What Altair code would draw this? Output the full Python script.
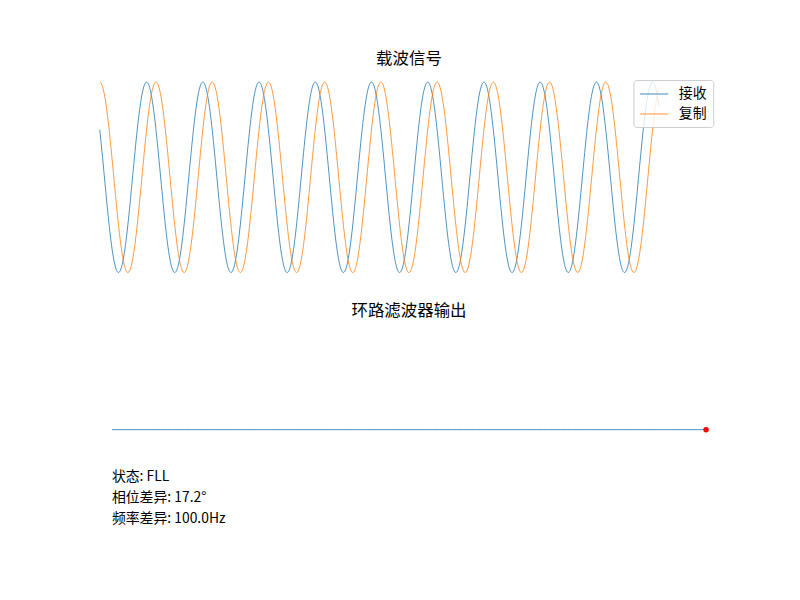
import altair as alt
import numpy as np
import pandas as pd

FONT = "Noto Sans CJK SC"

# ---------------- data ----------------
series_names = ["接收", "复制"]
series_colors = ["#1f77b4", "#ff7f0e"]
carrier_cycles = 10.0            # cycles per time unit
series_phase_deg = [60.0, 0.0]   # received leads the replica by ~60°
t_end = 0.995                    # last sample drawn (x axis runs to 1.1)
n_samples = 1000

loop_iter = list(range(50))
loop_output = [0.0] * 50

status_lines = ["状态: FLL", "相位差异: 17.2°", "频率差异: 100.0Hz"]

titles = ["载波信号", "环路滤波器输出"]

# ---------------- tables ----------------
t = np.linspace(0.0, t_end, n_samples)
frames = []
for name, ph in zip(series_names, series_phase_deg):
    frames.append(pd.DataFrame({
        "t": t,
        "v": np.cos(2 * np.pi * carrier_cycles * t + np.deg2rad(ph)),
        "s": name,
    }))
carrier = pd.concat(frames, ignore_index=True)

loop_df = pd.DataFrame({"i": loop_iter, "v": loop_output})
text_df = pd.DataFrame({"label": status_lines,
                        "x": [0, 0, 0],
                        "y": [-0.45, -0.65, -0.85]})

title_style = dict(fontSize=16.5, font=FONT, fontWeight="normal",
                   offset=5, anchor="middle", color="black")

# ---------------- top panel ----------------
top = alt.Chart(carrier).mark_line(strokeWidth=0.8).encode(
    x=alt.X("t:Q", scale=alt.Scale(domain=[0, 1.1], nice=False, zero=False), axis=None),
    y=alt.Y("v:Q", scale=alt.Scale(domain=[-1.1, 1.1], nice=False), axis=None),
    color=alt.Color(
        "s:N",
        sort=series_names,
        scale=alt.Scale(domain=series_names, range=series_colors),
        legend=alt.Legend(
            title=None, orient="none", legendX=535, legendY=7.5,
            symbolType="M-1,0L2.8,0", symbolSize=225,
            symbolStrokeWidth=1, symbolOpacity=0.85,
            labelOffset=23.5, rowPadding=5, padding=6,
            strokeColor="#cccccc", fillColor="rgba(255,255,255,0.8)",
            cornerRadius=3, labelFontSize=13.9, labelFont=FONT,
            labelColor="black",
        ),
    ),
).properties(width=620, height=210, title=alt.TitleParams(titles[0], **title_style))

# ---------------- bottom panel ----------------
xsc = alt.Scale(domain=[-1, 50], nice=False, zero=False)
ysc = alt.Scale(domain=[-1, 1], nice=False)

line = alt.Chart(loop_df).mark_line(color="#1f77b4", strokeWidth=0.8).encode(
    x=alt.X("i:Q", scale=xsc, axis=None),
    y=alt.Y("v:Q", scale=ysc, axis=None),
)
dot = alt.Chart(loop_df.tail(1)).mark_circle(color="red", size=30, opacity=1).encode(
    x=alt.X("i:Q", scale=xsc, axis=None),
    y=alt.Y("v:Q", scale=ysc, axis=None),
)
txt = alt.Chart(text_df).mark_text(
    align="left", baseline="middle", fontSize=13.9, font=FONT, color="black"
).encode(
    x=alt.X("x:Q", scale=xsc, axis=None),
    y=alt.Y("y:Q", scale=ysc, axis=None),
    text="label:N",
)
bottom = alt.layer(line, dot, txt).properties(
    width=620, height=210, title=alt.TitleParams(titles[1], **title_style)
)

chart = alt.vconcat(top, bottom, spacing=43, bounds="flush").properties(
    padding={"left": 98, "top": 50, "right": 82, "bottom": 65},
    background="white",
).configure_view(stroke=None)

chart.save("out.html", embed_options={"renderer": "svg", "actions": False})
